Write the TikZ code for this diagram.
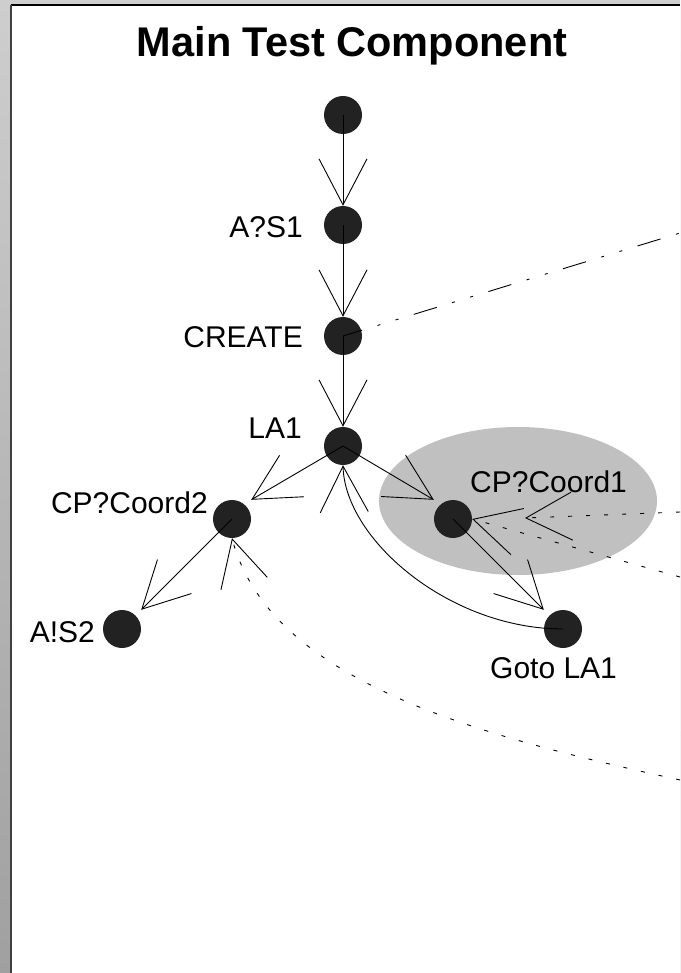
\documentclass[tikz,border=0pt]{standalone}
\usepackage{fontspec}
\setmainfont{Liberation Sans}
\usetikzlibrary{arrows.meta}
\definecolor{statefill}{HTML}{222222}
\definecolor{hilite}{HTML}{C0C0C0}
\definecolor{bgtop}{HTML}{CECECE}
\definecolor{bgbot}{HTML}{A0A0A0}

\begin{document}
\begin{tikzpicture}[x=1pt,y=-1pt,
  state/.style={rectangle, minimum size=38pt, inner sep=0pt},
  lbl/.style={inner sep=0pt, font=\fontsize{30}{36}\selectfont},
  barb/.style={-{Straight Barb[length=46pt,width=48pt]}},
  flow/.style={line width=0.9pt, barb},
  sig/.style={line width=0.9pt, dash pattern=on 4pt off 14pt, barb},
  dashdot/.style={line width=0.9pt, dash pattern=on 24pt off 16pt on 3pt off 16pt on 3pt off 16pt, dash phase=4pt},
]
\useasboundingbox (0,0) rectangle (680,973);

% window background and white panel
\shade[top color=bgtop, bottom color=bgbot] (0,0) rectangle (680,973);
\fill[white] (11,5) rectangle (680,973);
\draw[line width=2pt] (11,5) -- (680,5);
\draw[line width=1.6pt, black!75] (11,5) -- (11,973);

% title
\node[font=\fontsize{41.5}{48}\selectfont\bfseries, anchor=base, inner sep=0pt] (title) at (352,57) {Main Test Component};

% highlighted region
\fill[hilite] (518,501) ellipse [x radius=139, y radius=74];

% states
\node[state] (s0)  at (343,115) {};
\node[state] (as1) at (343,225) {};
\node[state] (cr)  at (343,336) {};
\node[state] (la1) at (343,446) {};
\node[state] (c2)  at (232,519) {};
\node[state] (as2) at (122,629) {};
\node[state] (c1)  at (453,519) {};
\node[state] (gt)  at (563,629) {};
\foreach \n in {s0,as1,cr,la1,c2,as2,c1,gt}
  \fill[statefill] (\n) circle [radius=19pt];

% free ends of the outgoing signal lines
\coordinate (outA) at (680,233);
\coordinate (inA)  at (680,512);
\coordinate (tipA) at (525,518);
\coordinate (inB)  at (680,577);
\coordinate (inC)  at (680,780);

% transitions
\draw[flow] (s0.center) -- (as1.north);
\draw[flow] (as1.center) -- (cr.north);
\draw[flow] (cr.center) -- (la1.north);
\draw[flow] (la1.center) -- (c2.north east);
\draw[flow] (la1.center) -- (c1.north west);
\draw[flow] (c2.center) -- (as2.north east);
\draw[flow] (c1.center) -- (gt.north west);
\draw[flow] (gt.center) .. controls (450,629) and (345,540) .. (la1.south);

% signal lines
\draw[dashdot] (cr.center) -- (outA);
\draw[sig] (inA) -- (tipA);
\draw[sig] (inB) -- (c1.east);
\draw[sig] (inC) .. controls (485,737) and (271,684) .. (c2.south);

% state labels
\node[lbl, anchor=base east] (l_as1) at (303,238) {A?S1};
\node[lbl, anchor=base east] (l_cr)  at (303,347) {CREATE};
\node[lbl, anchor=base east] (l_la1) at (302,438) {LA1};
\node[lbl, anchor=base east] (l_c2)  at (208,513) {CP?Coord2};
\node[lbl, anchor=base east] (l_as2) at (95,642) {A!S2};
\node[lbl, anchor=base west] (l_c1)  at (470,492) {CP?Coord1};
\node[lbl, anchor=base west] (l_gt)  at (490,678) {Goto LA1};
\end{tikzpicture}
\end{document}
